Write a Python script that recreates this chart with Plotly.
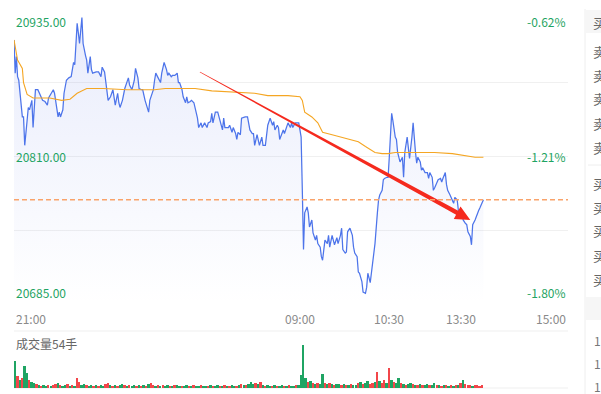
import plotly.graph_objects as go
import numpy as np

# ---------------- data ----------------
# minute index from 21:00 (night 21:00-01:00, day 09:00-10:15, 10:30-11:30, 13:30-15:00)
tick_minutes = [0, 240, 315, 375, 465]
tick_labels = ["21:00", "09:00", "10:30", "13:30", "15:00"]

price_levels = [20935, 20810, 20685]
pct_labels = ["-0.62%", "-1.21%", "-1.80%"]
last_price = 20773
volume_title = "成交量54手"

minutes = [0, 1, 2, 3, 4, 7, 8, 9, 11, 12, 13, 15, 16, 17, 18, 20, 22, 23, 24, 26,
           28, 29, 31, 33, 34, 35, 37, 38, 39, 41, 42, 44, 46, 48, 50, 51, 52, 53, 54, 55,
           57, 58, 60, 61, 62, 64, 65, 66, 69, 71, 73, 74, 76, 77, 79, 81, 82, 83, 85, 87,
           88, 89, 91, 92, 93, 95, 96, 97, 99, 101, 102, 104, 105, 107, 108, 110, 112, 113, 114, 117,
           118, 119, 121, 123, 124, 126, 128, 129, 130, 132, 133, 135, 137, 138, 139, 141, 142, 144, 145, 146,
           148, 149, 151, 153, 154, 155, 157, 158, 160, 162, 163, 165, 166, 167, 169, 171, 173, 175, 176, 177,
           179, 180, 181, 183, 184, 186, 187, 188, 190, 191, 194, 196, 198, 200, 201, 202, 204, 205, 206, 208,
           209, 211, 212, 213, 215, 217, 218, 219, 221, 222, 223, 225, 226, 227, 229, 230, 232, 233, 234, 236,
           238, 239, 240, 241, 242, 243, 244, 246, 247, 248, 250, 251, 253, 254, 255, 257, 258, 259, 261, 263,
           264, 265, 267, 268, 269, 271, 272, 274, 275, 276, 278, 279, 280, 282, 284, 285, 286, 288, 289, 290,
           292, 293, 295, 296, 297, 299, 300, 301, 303, 305, 306, 307, 309, 310, 311, 313, 314, 315, 316, 317,
           318, 320, 321, 322, 324, 326, 327, 328, 330, 331, 332, 334, 335, 337, 338, 339, 341, 342, 343, 345,
           347, 348, 349, 351, 352, 353, 355, 356, 358, 359, 360, 362, 363, 364, 366, 368, 369, 370, 372, 373,
           374, 376, 377, 379, 380, 381, 383, 384, 385, 387, 389, 390, 391, 393, 394]
prices = [20908, 20880, 20894, 20877, 20874, 20843, 20843, 20819, 20840, 20851, 20849, 20857, 20834, 20851, 20866, 20866, 20862, 20860, 20857, 20856,
          20853, 20859, 20862, 20866, 20863, 20857, 20843, 20847, 20843, 20849, 20863, 20874, 20876, 20877, 20889, 20887, 20902, 20922, 20914, 20905,
          20927, 20905, 20895, 20891, 20880, 20894, 20883, 20880, 20881, 20881, 20877, 20885, 20881, 20874, 20857, 20860, 20863, 20866, 20853, 20863,
          20855, 20851, 20857, 20863, 20867, 20873, 20876, 20870, 20866, 20874, 20884, 20876, 20867, 20866, 20866, 20857, 20851, 20847, 20857, 20866,
          20874, 20880, 20876, 20872, 20880, 20889, 20883, 20878, 20880, 20877, 20878, 20878, 20880, 20872, 20872, 20866, 20860, 20855, 20860, 20855,
          20856, 20857, 20855, 20847, 20842, 20834, 20838, 20834, 20838, 20834, 20838, 20839, 20846, 20838, 20847, 20847, 20839, 20832, 20842, 20834,
          20834, 20834, 20836, 20830, 20834, 20829, 20824, 20830, 20828, 20842, 20843, 20843, 20832, 20829, 20829, 20819, 20828, 20824, 20819, 20826,
          20819, 20819, 20826, 20836, 20842, 20836, 20839, 20832, 20836, 20834, 20824, 20829, 20832, 20829, 20834, 20838, 20834, 20838, 20834, 20838,
          20838, 20838, 20832, 20826, 20781, 20731, 20762, 20767, 20762, 20750, 20756, 20745, 20739, 20743, 20736, 20733, 20725, 20722, 20739, 20736,
          20743, 20733, 20743, 20739, 20735, 20741, 20736, 20743, 20749, 20731, 20728, 20729, 20746, 20749, 20743, 20733, 20728, 20725, 20712, 20711,
          20704, 20695, 20694, 20699, 20711, 20703, 20711, 20722, 20736, 20762, 20773, 20777, 20781, 20790, 20791, 20792, 20792, 20809, 20834, 20846,
          20840, 20826, 20824, 20813, 20805, 20809, 20792, 20813, 20826, 20813, 20808, 20826, 20838, 20813, 20804, 20809, 20805, 20798, 20800, 20796,
          20796, 20791, 20796, 20792, 20781, 20783, 20787, 20790, 20791, 20788, 20791, 20796, 20786, 20781, 20777, 20773, 20770, 20775, 20773, 20764,
          20762, 20763, 20756, 20753, 20752, 20746, 20742, 20735, 20752, 20756, 20762, 20764, 20766, 20770, 20773]

avg_minutes = [0, 3, 7, 8, 11, 16, 26, 30, 40, 47, 53, 61, 75, 95, 118, 127, 141, 152, 166, 185,
               202, 213, 230, 240, 242, 244, 250, 255, 259, 267, 278, 289, 295, 303, 309, 314, 320, 337, 353, 368,
               379, 387, 394]
avg_prices = [20908, 20891, 20884, 20872, 20862, 20859, 20859, 20859, 20857, 20858, 20863, 20867, 20867, 20866, 20866, 20867, 20867, 20867, 20865, 20864,
              20863, 20861, 20861, 20860, 20857, 20847, 20843, 20838, 20830, 20828, 20825, 20822, 20818, 20813, 20812, 20812, 20813, 20813, 20813, 20812,
              20810, 20809, 20809]

# volume per 2-minute bucket (lots)
volumes = [486, 216, 144, 180, 396, 270, 144, 108, 90, 72,
           54, 36, 54, 36, 54, 36, 54, 72, 90, 54,
           36, 54, 72, 36, 54, 36, 180, 108, 54, 72,
           54, 36, 54, 36, 54, 36, 54, 36, 72, 90,
           54, 36, 54, 36, 54, 72, 54, 36, 54, 36,
           54, 36, 54, 36, 54, 36, 72, 90, 54, 36,
           54, 36, 54, 36, 54, 36, 36, 54, 54, 36,
           36, 36, 54, 36, 36, 54, 36, 36, 54, 36,
           36, 36, 54, 36, 36, 54, 36, 36, 54, 36,
           36, 54, 36, 36, 54, 72, 54, 54, 72, 108,
           72, 90, 72, 108, 54, 36, 54, 36, 36, 54,
           36, 36, 54, 36, 36, 54, 36, 36, 54, 54,
           234, 774, 180, 108, 126, 90, 72, 90, 72, 252,
           90, 72, 90, 72, 54, 72, 72, 54, 72, 54,
           54, 72, 54, 54, 90, 108, 72, 90, 126, 72,
           90, 108, 288, 126, 90, 144, 90, 360, 144, 108,
           90, 180, 90, 72, 54, 72, 90, 72, 54, 54,
           72, 54, 54, 72, 54, 54, 90, 54, 54, 36,
           54, 54, 36, 54, 36, 54, 54, 90, 144, 72,
           54, 54, 36, 54, 54, 36, 54]
volume_dir = ("grgrggrggr" "grggrgrrgr" "ggrgrgrrgg" "rggrgrggrr" "grgrggrgrg"
              "grgrgrgrrg" "rgrggrgrgg" "rggrgrggrg" "grgrggrgrg" "rggrgrgrgg"
              "grgrgrggrg" "rggrgrggrg" "gggrgrgrgg" "rgrgrggrgr" "grggrgrggr"
              "rgrgrrgrgr" "ggrgrggrgr" "grggrggrgr" "grgrgrgrgr" "rrgrrrr")

# hand-drawn arrow (minute, price)
arrow_start = (156, 20881)
arrow_tip = (383, 20756)

side_head = "买"
side_sell = ["卖", "卖", "卖", "卖", "卖"]
side_buy = ["买", "买", "买", "买", "买"]
side_vol = ["1", "1", "1"]

# ---------------- layout geometry ----------------
W, H = 601, 394
ML, MR, MT, MB = 14, 33, 8, 6
PW, PH = W - ML - MR, H - MT - MB
X_MAX = 465
P_LO, P_HI = 20685, 20935
price_dom = [(388 - 304) / PH, 1.0]
vol_dom = [0.0, (388 - 340) / PH]
V_MAX = 864


def py2paper(py):
    return (H - MB - py) / PH


def px2paper(px):
    return (px - ML) / PW


GREEN = "#1fa463"
RED = "#f2464a"
GRAY = "#8a8a8a"
FONT = "Noto Sans CJK SC"

fig = go.Figure()

# price line with gradient fill
fig.add_trace(go.Scatter(
    x=minutes, y=prices, mode="lines",
    line=dict(color="#4d74ea", width=1.25),
    fill="tozeroy",
    fillgradient=dict(type="vertical",
                      colorscale=[[0, "rgba(90,115,230,0.0)"], [1, "rgba(90,115,230,0.14)"]],
                      start=P_LO, stop=P_HI),
    hoverinfo="skip", xaxis="x", yaxis="y"))

# average price line
fig.add_trace(go.Scatter(
    x=avg_minutes, y=avg_prices, mode="lines",
    line=dict(color="#f5a623", width=1.1),
    hoverinfo="skip", xaxis="x", yaxis="y"))

# arrow polygon (tapered)
sx = PW / X_MAX
sy = PH * (price_dom[1] - price_dom[0]) / (P_HI - P_LO)
S = np.array([arrow_start[0] * sx, arrow_start[1] * sy])
T = np.array([arrow_tip[0] * sx, arrow_tip[1] * sy])
d = T - S
L = np.hypot(*d)
u = d / L
n = np.array([-u[1], u[0]])
head_len, head_half = 15.0, 7.0
base = L - head_len
ts = np.linspace(0, base, 30)
left = [S + u * t + n * (0.35 + 1.9 * t / base) for t in ts]
right = [S + u * t - n * (0.35 + 1.9 * t / base) for t in ts]
hb = S + u * base
poly = left + [hb + n * head_half, T, hb - n * head_half] + right[::-1] + [left[0]]
poly = np.array(poly)
fig.add_trace(go.Scatter(
    x=poly[:, 0] / sx, y=poly[:, 1] / sy, mode="lines", fill="toself",
    fillcolor="#f52a1e", line=dict(width=0, color="#f52a1e"),
    hoverinfo="skip", xaxis="x", yaxis="y"))

# volume bars
vx = [2 * i + 1 for i in range(len(volumes))]
vcol = [GREEN if c == "g" else RED for c in volume_dir]
fig.add_trace(go.Bar(
    x=vx, y=volumes, width=1.55, marker=dict(color=vcol, line=dict(width=0)),
    hoverinfo="skip", xaxis="x2", yaxis="y2"))

shapes = []
# current price dashed line
shapes.append(dict(type="line", xref="paper", yref="y", x0=0, x1=1, y0=last_price, y1=last_price,
                   line=dict(color="#f9a36b", width=1.5, dash="5px,3px"), layer="above"))
# separator lines
for py in [331, 388]:
    shapes.append(dict(type="line", xref="paper", yref="paper", x0=0, x1=1, y0=py2paper(py), y1=py2paper(py),
                       line=dict(color="#efefef", width=1), layer="below"))
# side panel
shapes.append(dict(type="line", xref="paper", yref="paper", x0=px2paper(585), x1=px2paper(585),
                   y0=py2paper(9), y1=py2paper(394), line=dict(color="#eeeeee", width=1)))
for (a, b) in [(10, 33), (297, 320)]:
    shapes.append(dict(type="rect", xref="paper", yref="paper", x0=px2paper(585.5), x1=px2paper(605),
                       y0=py2paper(b), y1=py2paper(a), fillcolor="#f6f6f6", line=dict(width=0)))
shapes.append(dict(type="line", xref="paper", yref="paper", x0=px2paper(588), x1=px2paper(605),
                   y0=py2paper(165), y1=py2paper(165), line=dict(color="#eeeeee", width=1)))

ann = []
# left price labels / right pct labels
anchors = ["top", "middle", "bottom"]
shifts = [-3, 0, 1]
for p, pc, ya, ys in zip(price_levels, pct_labels, anchors, shifts):
    ann.append(dict(text=f"{p:.2f}", x=0, xref="paper", xanchor="left", y=p, yref="y", yanchor=ya, yshift=ys,
                    showarrow=False, font=dict(color=GREEN, size=12, family=FONT)))
    ann.append(dict(text=pc, x=1, xref="paper", xanchor="right", y=p, yref="y", yanchor=ya, yshift=ys,
                    showarrow=False, font=dict(color=GREEN, size=12, family=FONT)))
# time labels
for i, (m, lab) in enumerate(zip(tick_minutes, tick_labels)):
    xa = "left" if i == 0 else ("right" if i == len(tick_labels) - 1 else "center")
    ann.append(dict(text=lab, x=m, xref="x", xanchor=xa, y=py2paper(318), yref="paper", yanchor="middle",
                    showarrow=False, font=dict(color=GRAY, size=12, family=FONT)))
ann.append(dict(text=volume_title, x=0, xref="paper", xanchor="left", y=py2paper(343), yref="paper",
                yanchor="middle", showarrow=False, font=dict(color="#666666", size=12, family=FONT)))
# side panel text (cut by the window edge, as in the reference)
side_items = [(side_head, 22)] + list(zip(side_sell, [51, 75, 99, 123, 147])) + list(zip(side_buy, [183, 207, 231, 255, 279]))
for t, py in side_items:
    ann.append(dict(text=t, x=px2paper(591), xref="paper", xanchor="left", y=py2paper(py), yref="paper",
                    yanchor="middle", showarrow=False, font=dict(color="#666666", size=13, family=FONT)))
for t, py in zip(side_vol, [340, 363, 386]):
    ann.append(dict(text=t, x=px2paper(592), xref="paper", xanchor="left", y=py2paper(py), yref="paper",
                    yanchor="middle", showarrow=False, font=dict(color="#777777", size=12, family=FONT)))

fig.update_layout(
    width=W, height=H, margin=dict(l=ML, r=MR, t=MT, b=MB),
    paper_bgcolor="white", plot_bgcolor="white", showlegend=False,
    xaxis=dict(domain=[0, 1], range=[0, X_MAX], showgrid=False, zeroline=False, showticklabels=False,
               anchor="y", fixedrange=True),
    yaxis=dict(domain=price_dom, range=[P_LO, P_HI], tickvals=[20685, 20747.5, 20810, 20872.5, 20935],
               showgrid=True, gridcolor="#f0f0f0", gridwidth=1, zeroline=False, showticklabels=False,
               anchor="x"),
    xaxis2=dict(domain=[0, 1], range=[0, X_MAX], showgrid=False, zeroline=False, showticklabels=False,
                anchor="y2"),
    yaxis2=dict(domain=vol_dom, range=[0, V_MAX], showgrid=False, zeroline=False, showticklabels=False,
                anchor="x2"),
    bargap=0,
    shapes=shapes, annotations=ann,
)

fig.write_html("out.html", config={"displayModeBar": False})
